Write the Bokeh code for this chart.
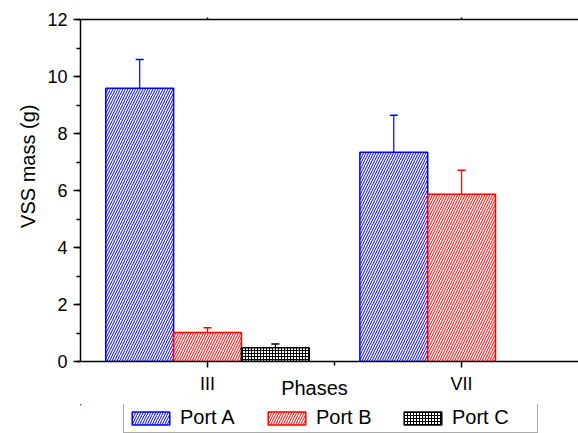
import numpy as np
from bokeh.plotting import figure
from bokeh.layouts import column
from bokeh.models import (ColumnDataSource, Range1d, FixedTicker, LinearAxis,
                          Whisker, TeeHead, Legend, LegendItem)
from bokeh.embed import file_html
from bokeh.resources import INLINE

# ---- data ----
phases = ["III", "VII"]
series_names = ["Port A", "Port B", "Port C"]
port_a = [9.59, 7.34]
port_a_err = [1.01, 1.30]
port_b = [1.02, 5.87]
port_b_err = [0.16, 0.84]
port_c = [0.48, np.nan]
port_c_err = [0.13, np.nan]
y_ticks = [0, 2, 4, 6, 8, 10, 12]
x_label = "Phases"
y_label = "VSS mass (g)"

FONT = "Liberation Sans"

xpos = np.arange(1, len(phases) + 1, dtype=float)
bar_w = 0.267

p = figure(width=578, height=404, output_backend="svg", toolbar_location=None,
           x_range=Range1d(0.5, 2.46), y_range=Range1d(0, 12),
           min_border_left=80, min_border_right=0, min_border_top=19,
           min_border_bottom=43)
p.outline_line_color = None
p.grid.visible = False
p.background_fill_color = "white"
p.border_fill_color = "white"

styles = [
    dict(line_color="#0000FF", hatch_color="#0000FF", hatch_pattern="/", hatch_scale=5.0),
    dict(line_color="#FF0000", hatch_color="#FF0000", hatch_pattern="/", hatch_scale=5.0),
    dict(line_color="#000000", hatch_color="#000000", hatch_pattern="+", hatch_scale=3.0),
]
vals = [port_a, port_b, port_c]
errs = [port_a_err, port_b_err, port_c_err]
offsets = [-bar_w, 0.0, bar_w]

sources = []
for name, v, e, off, st in zip(series_names, vals, errs, offsets, styles):
    v = np.array(v, dtype=float)
    e = np.array(e, dtype=float)
    ok = ~np.isnan(v)
    src = ColumnDataSource(dict(x=xpos[ok] + off, top=v[ok],
                                upper=v[ok] + e[ok]))
    sources.append(src)
    p.vbar(x="x", top="top", width=bar_w, bottom=0, source=src,
           fill_color="white", line_width=1.5, hatch_weight=1.0, **st)
    w = Whisker(base="x", lower="top", upper="upper", source=src,
                line_color=st["line_color"], line_width=1.2,
                lower_head=None,
                upper_head=TeeHead(size=8, line_color=st["line_color"], line_width=1.5))
    p.add_layout(w)

# axes
yax = p.yaxis[0]
yax.ticker = FixedTicker(ticks=y_ticks, minor_ticks=list(range(0, 13)))
yax.major_tick_out = 7
yax.major_tick_in = 0
yax.minor_tick_out = 4
yax.minor_tick_in = 0
yax.major_label_standoff = 6
yax.major_label_text_font = FONT
yax.major_label_text_font_size = "18px"
yax.major_label_text_color = "black"
yax.axis_line_width = 1.5
yax.major_tick_line_width = 1.5
yax.minor_tick_line_width = 1.5

xax = p.xaxis[0]
xax.ticker = FixedTicker(ticks=list(xpos), minor_ticks=list(xpos + 0.5))
xax.major_label_overrides = {float(t): lab for t, lab in zip(xpos, phases)}
xax.major_tick_out = 6
xax.major_tick_in = 0
xax.minor_tick_out = 4
xax.minor_tick_in = 0
xax.major_label_standoff = 6
xax.major_label_text_font = FONT
xax.major_label_text_font_size = "18px"
xax.major_label_text_color = "black"
xax.axis_line_width = 1.5
xax.major_tick_line_width = 1.5
xax.minor_tick_line_width = 1.5

top_ax = LinearAxis(ticker=FixedTicker(ticks=list(xpos), minor_ticks=[]),
                    major_label_text_font_size="0px", major_tick_out=2,
                    major_tick_in=0, axis_line_width=1.5, major_tick_line_width=1.5)
top_ax.major_label_text_alpha = 0
p.add_layout(top_ax, "above")

def title_axis(pos, text, orientation, standoff):
    return LinearAxis(ticker=FixedTicker(ticks=[pos], minor_ticks=[]),
                      major_label_overrides={pos: text},
                      major_label_orientation=orientation,
                      axis_line_color=None, major_tick_line_color=None,
                      minor_tick_line_color=None, major_tick_out=0, major_tick_in=0,
                      major_label_standoff=standoff, major_label_text_font=FONT,
                      major_label_text_font_size="20px", major_label_text_color="black")

# axis titles placed like the reference (off-centre)
p.add_layout(title_axis(6.85, y_label, "vertical", 5), "left")
p.add_layout(title_axis(1.421, x_label, "horizontal", -20), "below")

# legend strip below the chart (its bar renderers lie outside its view)
pl = figure(width=578, height=29, output_backend="svg", toolbar_location=None,
            x_range=Range1d(100, 101), y_range=Range1d(-100, -99),
            x_axis_type=None, y_axis_type=None,
            min_border_left=0, min_border_right=0, min_border_top=0,
            min_border_bottom=0)
pl.outline_line_color = None
pl.grid.visible = False
pl.background_fill_color = "white"
pl.border_fill_color = "white"
leg_renderers = []
for src, st in zip(sources, styles):
    leg_renderers.append(pl.vbar(x="x", top="top", width=bar_w, bottom=0, source=src,
                                 fill_color="white", line_width=1.5, hatch_weight=1.0, **st))

legend = Legend(items=[LegendItem(label=n, renderers=[r]) for n, r in zip(series_names, leg_renderers)],
                orientation="horizontal", location=(43, 0),
                glyph_width=47, glyph_height=16, label_height=16, label_width=82,
                label_standoff=6, spacing=1, padding=3,
                label_text_font=FONT, label_text_font_size="20px",
                label_text_color="black",
                border_line_color="#555555", border_line_width=1.2,
                background_fill_alpha=1.0)
pl.add_layout(legend, "center")

open("out.html", "w").write(file_html(column(p, pl, spacing=0), INLINE))
